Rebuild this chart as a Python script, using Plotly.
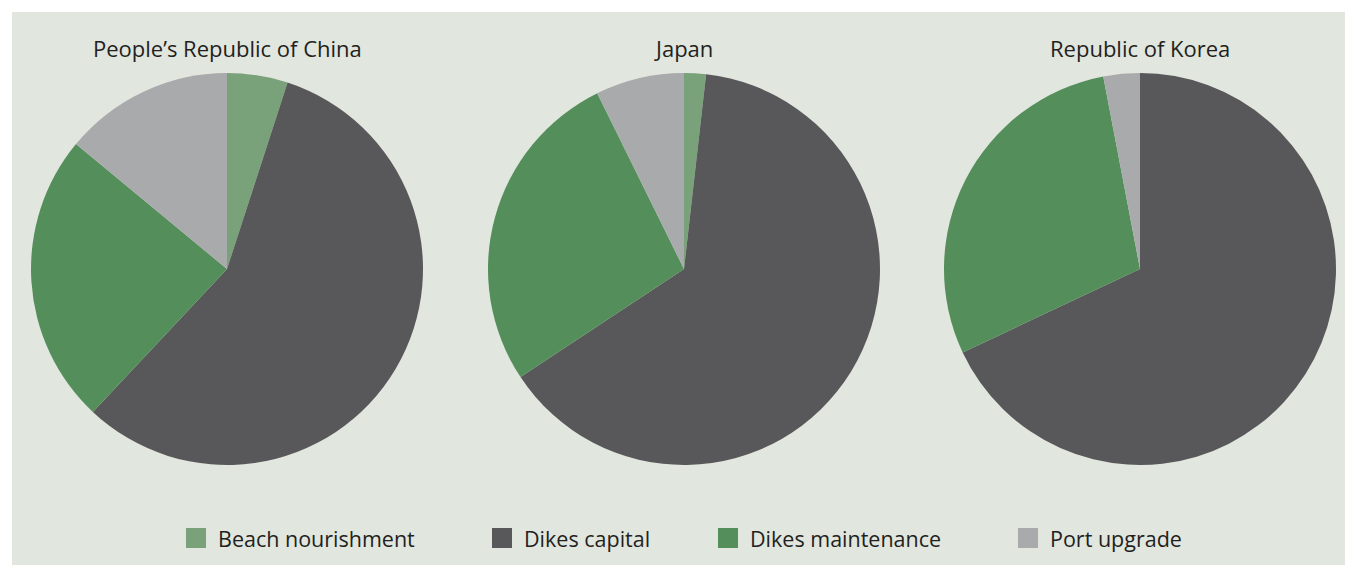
import plotly.graph_objects as go

# ---- data ----
countries = ["People\u2019s Republic of China", "Japan", "Republic of Korea"]
categories = ["Beach nourishment", "Dikes capital", "Dikes maintenance", "Port upgrade"]
china_values = [5.0, 57.0, 24.0, 14.0]
japan_values = [1.8, 63.9, 27.0, 7.3]
korea_values = [0.0, 68.0, 29.0, 3.0]
colors = ["#7aa27a", "#58585a", "#548e5a", "#a9aaac"]

# ---- layout constants (pixels) ----
W, H = 1345, 565
BG = "#e1e6df"
TEXT = "#231f20"
FONT = "Open Sans"
centers_x = [227, 684, 1140]
center_y = 269
radius = 196
title_y = 48
legend_y = 538
legend_sq_x = [186, 492, 718, 1018]
legend_sq = 20
legend_gap = 12


def px(x):
    return x / W


def py(y):
    return 1 - y / H


fig = go.Figure()
for name, vals, cx in zip(countries, [china_values, japan_values, korea_values], centers_x):
    fig.add_trace(go.Pie(
        labels=categories,
        values=vals,
        name=name,
        sort=False,
        direction="clockwise",
        rotation=0,
        marker=dict(colors=colors, line=dict(width=0)),
        textinfo="none",
        showlegend=False,
        domain=dict(x=[px(cx - radius), px(cx + radius)],
                    y=[py(center_y + radius), py(center_y - radius)]),
    ))

shapes = [dict(type="rect", xref="paper", yref="paper", layer="below",
               x0=px(12), x1=1, y0=0, y1=py(12),
               fillcolor=BG, line=dict(width=0))]
annotations = []
for name, cx in zip(countries, centers_x):
    annotations.append(dict(text=name, x=px(cx), y=py(title_y), xref="paper", yref="paper",
                            xanchor="center", yanchor="middle", showarrow=False,
                            font=dict(family=FONT, size=22, color=TEXT)))
for cat, col, sx in zip(categories, colors, legend_sq_x):
    shapes.append(dict(type="rect", xref="paper", yref="paper", layer="above",
                       x0=px(sx), x1=px(sx + legend_sq),
                       y0=py(legend_y + legend_sq / 2), y1=py(legend_y - legend_sq / 2),
                       fillcolor=col, line=dict(width=0)))
    annotations.append(dict(text=cat, x=px(sx + legend_sq + legend_gap - 2), y=py(legend_y),
                            xref="paper", yref="paper", xanchor="left", yanchor="middle",
                            showarrow=False, font=dict(family=FONT, size=21.5, color=TEXT)))

fig.update_layout(
    width=W, height=H,
    margin=dict(l=0, r=0, t=0, b=0),
    paper_bgcolor="white",
    plot_bgcolor="white",
    shapes=shapes,
    annotations=annotations,
    font=dict(family=FONT, color=TEXT),
)

fig.write_html("out.html",
               config={"displayModeBar": False},
               post_script="document.body.style.margin='0';document.body.style.overflow='hidden';")
